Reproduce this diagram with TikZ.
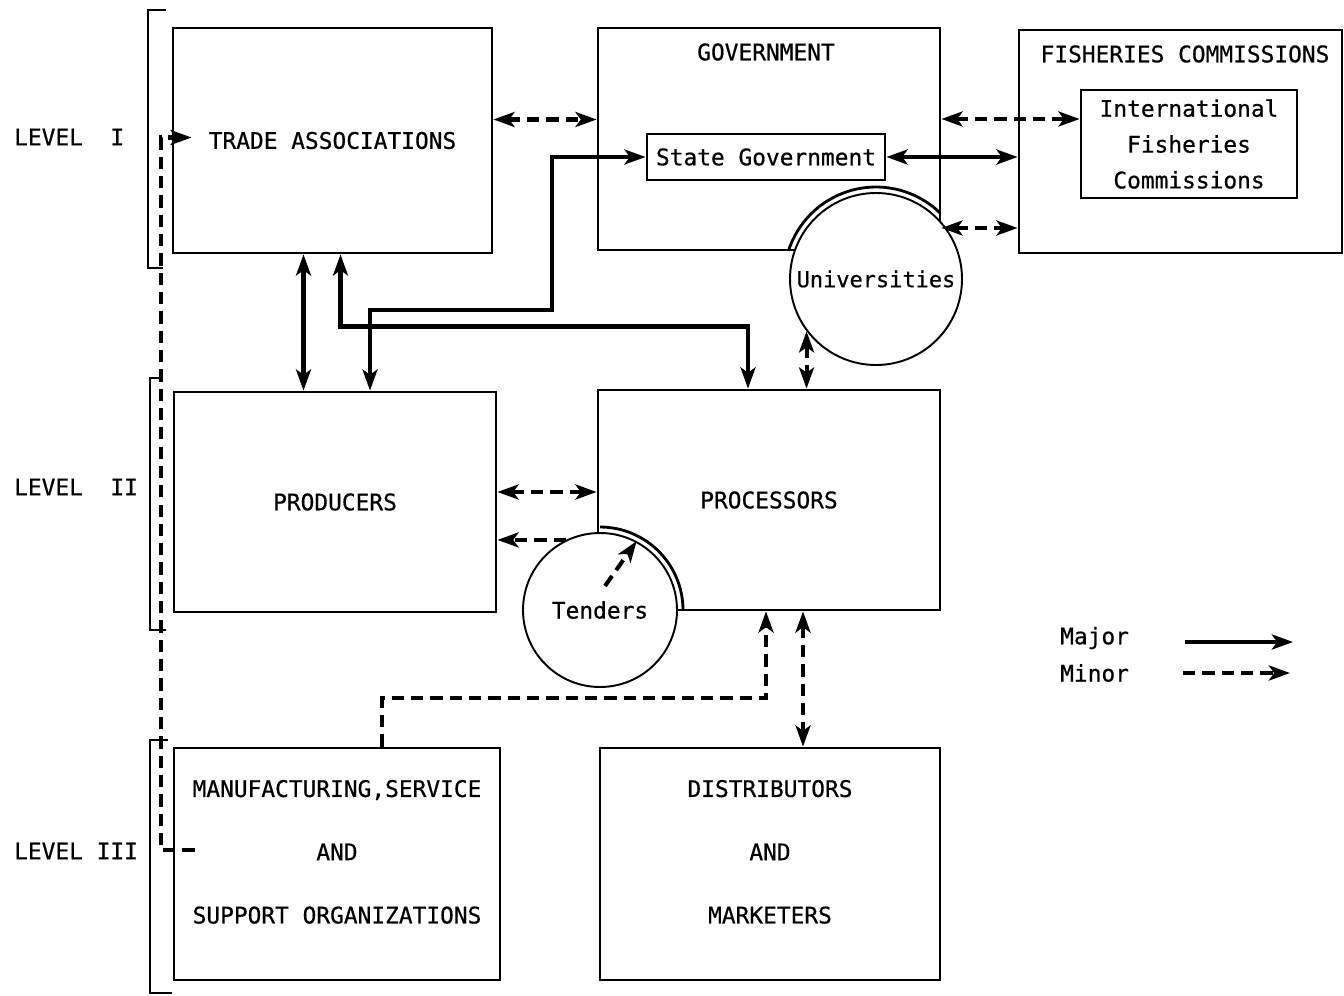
\documentclass[tikz,border=0pt]{standalone}
\usepackage{fontspec}
\setmainfont{DejaVu Sans Mono}[FakeBold=0.6]
\usetikzlibrary{arrows.meta,calc}
\tikzset{>={Stealth[length=12pt,width=8.5pt,inset=3pt]}}

\begin{document}
\begin{tikzpicture}[x=0.02cm, y=-0.02cm,
	every node/.style={font=\fontsize{13}{15.6}\selectfont},
	box/.style 2 args={draw, line width=1.6pt, minimum width=#1*0.02cm, minimum height=#2*0.02cm, inner sep=0pt, align=center},
	disc/.style={circle, draw, line width=1.1pt, fill=white, minimum size=#1*0.02cm, inner sep=0pt},
	rim/.style={line width=1.6pt},
	major/.style={line width=2.7pt, <->},
	minor/.style={line width=2.3pt, dash pattern=on 7pt off 4pt, <->},
	bracket/.style={line width=1.5pt}]
	\useasboundingbox (0,0) rectangle (1344,996);
	% draw level labels and brackets
	\node[anchor=west] (lev1) at (8,137) {LEVEL\ \ I};
	\node[anchor=west] (lev2) at (8,487) {LEVEL\ \ II};
	\node[anchor=west] (lev3) at (8,851) {LEVEL III};
	\draw[bracket] (166,10) -| (148,268) -- (163,268);
	\draw[bracket] (163,378) -| (150,630) -- (166,630);
	\draw[bracket] (168,740) -| (150,993) -- (172,993);
	% draw level I boxes
	\node[box={319}{225}] (trade) at (332.5,140.5) {TRADE ASSOCIATIONS};
	\node[box={342}{222}] (gov) at (769,139) {};
	\node (govtitle) at (766,52) {GOVERNMENT};
	\node[box={238}{46}] (sgov) at (766,157) {State Government};
	\node[box={323}{223}] (fish) at (1180.5,141.5) {};
	\node (fishtitle) at (1185,54) {FISHERIES COMMISSIONS};
	\node[box={216}{108}, font=\fontsize{13}{20.4}\selectfont] (intl) at (1189,144) {International\\Fisheries\\Commissions};
	% draw level II boxes
	\node[box={322}{220}] (prod) at (335,502) {PRODUCERS};
	\node[box={342}{220}] (proc) at (769,500) {PROCESSORS};
	% draw level III boxes
	\node[box={326}{232}, font=\fontsize{13}{36}\selectfont, text depth=14pt] (manuf) at (337,864) {MANUFACTURING,SERVICE\\AND\\SUPPORT ORGANIZATIONS};
	\node[box={340}{232}, font=\fontsize{13}{36}\selectfont, text depth=14pt] (dist) at (770,864) {DISTRIBUTORS\\AND\\MARKETERS};
	% draw circles cutting the box corners
	\node[disc=172, font=\fontsize{12.5}{15}\selectfont] (univ) at (876,279) {Universities};
	\node[disc=154] (tend) at (600,610) {Tenders};
	\draw[rim] (univ.center) ++(46:1.84cm) arc[start angle=46, end angle=162, radius=1.84cm];
	\draw[rim] (tend.center) ++(90:1.66cm) arc[start angle=90, end angle=0, radius=1.66cm];
	% draw major links
	\draw[major] ($(trade.south)+(-29,0)$) coordinate (tp) -- (tp |- prod.north);
	\draw[major] ($(trade.south)+(8,0)$) |- ($(proc.north)+(-21,-62)$) -- ($(proc.north)+(-21,0)$);
	\draw[major] ($(prod.north)+(35,0)$) |- (552,310) |- (sgov.west);
	\draw[major] (sgov.east) -- (sgov.east -| fish.west);
	% draw minor links
	\draw[minor] ($(trade.east)+(0,-21)$) coordinate (tg) -- (tg -| gov.west);
	\draw[minor] ($(gov.east)+(0,-20)$) coordinate (gi) -- (gi -| intl.west);
	\draw[minor] ($(gov.east)+(0,89)$) coordinate (gf) -- (gf -| fish.west);
	\draw[minor] ($(prod.east)+(0,-10)$) coordinate (pp) -- (pp -| proc.west);
	\draw[minor,->] (tend.116) -- (tend.116 -| prod.east);
	\draw[minor,->] ($(tend.center)+(5,-24)$) -- (tend.62);
	\draw[minor,->] ($(manuf.north)+(45,0)$) |- ($(proc.south)+(-3,87)$) -- ($(proc.south)+(-3,0)$);
	\draw[minor] ($(proc.south)+(34,0)$) coordinate (pd) -- (pd |- dist.north);
	\draw[minor] (univ.217) -- (univ.217 |- proc.north);
	\draw[minor,->] ($(manuf.west)+(22,-14)$) -| ($(trade.west)+(-11,-3)$) -- ($(trade.west)+(20,-3)$);
	% draw legend
	\node[anchor=west] (lmaj) at (1054,638) {Major};
	\node[anchor=west] (lmin) at (1054,673) {Minor};
	\coordinate (lmajs) at (1185,642);
	\coordinate (lmaje) at (1293,642);
	\coordinate (lmins) at (1183,673);
	\coordinate (lmine) at (1290,673);
	\draw[major,->] (lmajs) -- (lmaje);
	\draw[minor,->] (lmins) -- (lmine);
\end{tikzpicture}
\end{document}
